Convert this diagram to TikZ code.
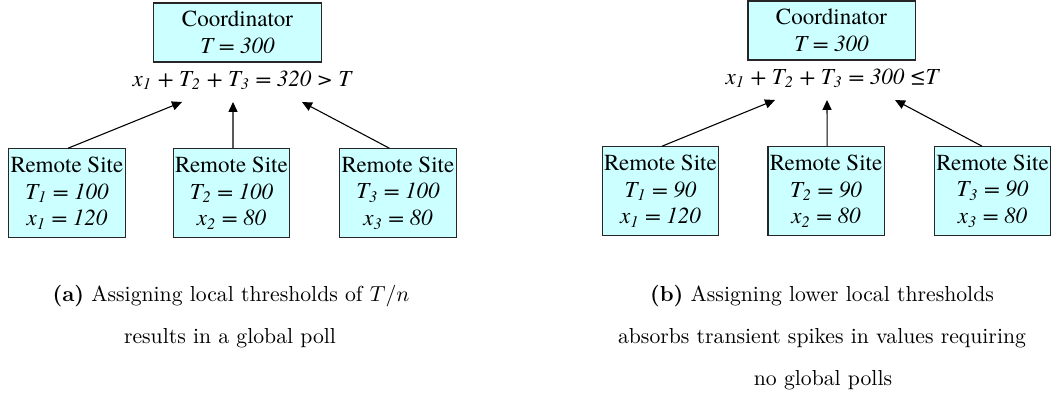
\documentclass[tikz,border=0pt]{standalone}
\usepackage{fontspec}
\newfontfamily\tnr{texgyretermes}[Extension=.otf,UprightFont=*-regular,
  ItalicFont=*-italic,BoldFont=*-bold,BoldItalicFont=*-bolditalic]
\usepackage{tikz}
\usetikzlibrary{positioning,arrows.meta}
\definecolor{sitecyan}{HTML}{CCFFFF}

\begin{document}
\begin{tikzpicture}[x=0.4608pt,y=-0.4608pt,>={Triangle[length=4.6pt,width=4.2pt]},
  box/.style={draw=black!85,fill=sitecyan,line width=0.5pt,align=center,inner sep=0pt,
    font=\tnr\fontsize{10.6}{12.4}\selectfont},
  site/.style={box,minimum width=53.5pt,minimum height=40.8pt},
  coord/.style={box,minimum width=77pt,minimum height=27.2pt},
  sum/.style={font=\tnr\itshape\fontsize{10.6}{12.4}\selectfont,inner sep=0pt,anchor=base},
  captext/.style={anchor=base,inner sep=0pt},
  link/.style={->,line width=0.5pt}]
\useasboundingbox (0,0) rectangle (1059,417);
% (a) T/n thresholds
\node[coord] (coa) at (237.5,32.5) {Coordinator\\\textit{T = 300}};
\node[sum] (suma) at (242,86) {x\textsubscript{1} + T\textsubscript{2} + T\textsubscript{3} = 320 > T};
\node[site] (sa1) at (67,193) {Remote Site\\\textit{T\textsubscript{1} = 100}\\\textit{x\textsubscript{1} = 120}};
\node[site] (sa2) at (231.5,193) {Remote Site\\\textit{T\textsubscript{2} = 100}\\\textit{x\textsubscript{2} = 80}};
\node[site] (sa3) at (398,193) {Remote Site\\\textit{T\textsubscript{3} = 100}\\\textit{x\textsubscript{3} = 80}};
\coordinate (ta1) at (182,102);
\coordinate (ta2) at (233,102);
\coordinate (ta3) at (302,102);
\draw[link] ([xshift=0.5pt]sa1.north) -- (ta1);
\draw[link] ([xshift=0.7pt]sa2.north) -- (ta2);
\draw[link] ([xshift=-4pt]sa3.north) -- (ta3);
\node[captext] (capa1) at (231,301) {\textbf{(a)} Assigning local thresholds of $T/n$};
\node[captext] (capa2) at (230,343) {results in a global poll};
% (b) lower thresholds
\node[coord] (cob) at (831.5,30.5) {Coordinator\\\textit{T = 300}};
\node[sum] (sumb) at (832,84) {x\textsubscript{1} + T\textsubscript{2} + T\textsubscript{3} = 300 ≤T};
\node[site] (sb1) at (660.5,191) {Remote Site\\\textit{T\textsubscript{1} = 90}\\\textit{x\textsubscript{1} = 120}};
\node[site] (sb2) at (826,191) {Remote Site\\\textit{T\textsubscript{2} = 90}\\\textit{x\textsubscript{2} = 80}};
\node[site] (sb3) at (992.5,191) {Remote Site\\\textit{T\textsubscript{3} = 90}\\\textit{x\textsubscript{3} = 80}};
\coordinate (tb1) at (775,100);
\coordinate (tb2) at (827,100);
\coordinate (tb3) at (895,100);
\draw[link] ([xshift=0.7pt]sb1.north) -- (tb1);
\draw[link] ([xshift=0.5pt]sb2.north) -- (tb2);
\draw[link] ([xshift=-4.8pt]sb3.north) -- (tb3);
\node[captext] (capb1) at (822,301) {\textbf{(b)} Assigning lower local thresholds};
\node[captext] (capb2) at (822,343) {absorbs transient spikes in values requiring};
\node[captext] (capb3) at (823,385) {no global polls};
\end{tikzpicture}
\end{document}
